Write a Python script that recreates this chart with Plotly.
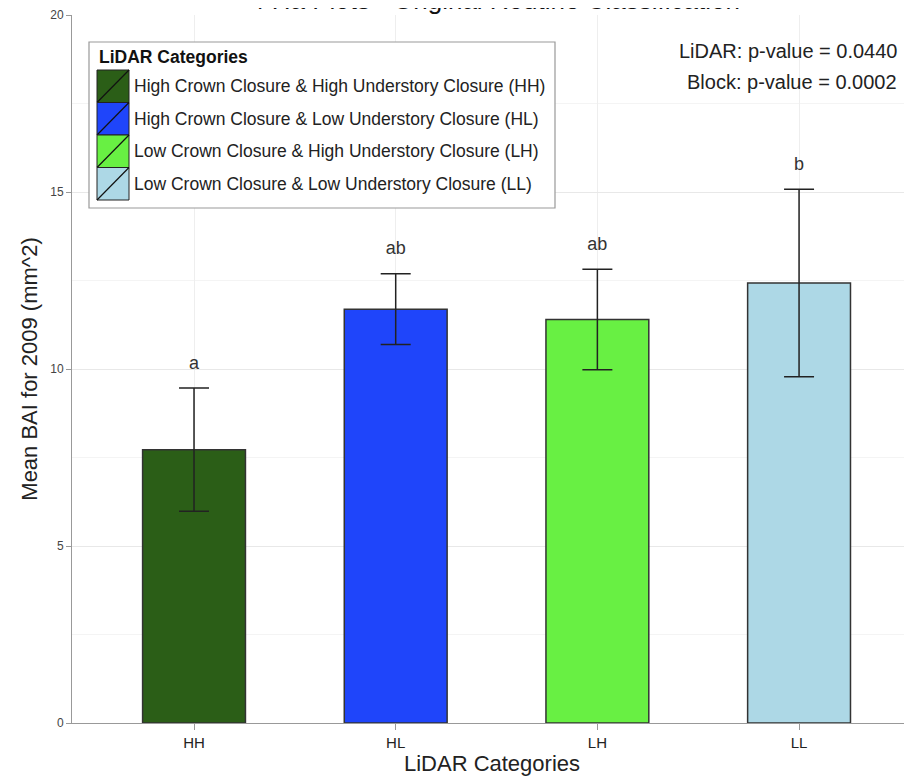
import plotly.graph_objects as go

categories = ["HH", "HL", "LH", "LL"]
legend_names = [
    "High Crown Closure & High Understory Closure (HH)",
    "High Crown Closure & Low Understory Closure (HL)",
    "Low Crown Closure & High Understory Closure (LH)",
    "Low Crown Closure & Low Understory Closure (LL)",
]
mean_bai = [7.72, 11.69, 11.40, 12.43]
std_err = [1.74, 1.00, 1.42, 2.65]
sig_letters = ["a", "ab", "ab", "b"]
colors = ["#2b5e17", "#1f45fa", "#68f043", "#add8e6"]

FONT = "Liberation Sans, Arial, sans-serif"

fig = go.Figure()
for cat, name, val, err, col in zip(categories, legend_names, mean_bai, std_err, colors):
    fig.add_trace(go.Bar(
        x=[cat], y=[val], name=name, width=0.51, showlegend=False,
        marker=dict(color=col, line=dict(color="#333333", width=1.5)),
        error_y=dict(type="data", array=[err], visible=True, color="#222222",
                     thickness=1.5, width=15),
    ))

fig.add_trace(go.Scatter(
    x=categories, y=[v + e + 0.68 for v, e in zip(mean_bai, std_err)],
    text=sig_letters, mode="text", showlegend=False,
    textfont=dict(family=FONT, size=18, color="#333333"),
))

# ---- legend (ggplot-style key with square swatches) ----
PLOT_L, PLOT_W, PLOT_T, PLOT_H = 72, 840, 15, 708   # page px of plot area
px = lambda x: (x - PLOT_L) / PLOT_W
py = lambda y: 1 - (y - PLOT_T) / PLOT_H

fig.add_shape(type="rect", xref="paper", yref="paper",
              x0=px(89), x1=px(555), y0=py(208), y1=py(42),
              line=dict(color="#999999", width=1.2), fillcolor="white", layer="above")
fig.add_annotation(text="<b>LiDAR Categories</b>", xref="paper", yref="paper",
                   x=px(97), y=py(57), xanchor="left", yanchor="middle",
                   showarrow=False, font=dict(family=FONT, size=17.5, color="#111111"))
ROW_TOP, ROW_H = 70, 32.5
for i, (name, col) in enumerate(zip(legend_names, colors)):
    top, bot = ROW_TOP + i * ROW_H, ROW_TOP + (i + 1) * ROW_H
    fig.add_shape(type="rect", xref="paper", yref="paper",
                  x0=px(97), x1=px(129), y0=py(bot), y1=py(top),
                  line=dict(color="#222222", width=1), fillcolor=col, layer="above")
    fig.add_shape(type="line", xref="paper", yref="paper",
                  x0=px(97), x1=px(129), y0=py(bot), y1=py(top),
                  line=dict(color="#111111", width=1.2), layer="above")
    fig.add_annotation(text=name, xref="paper", yref="paper",
                       x=px(132), y=py((top + bot) / 2), xanchor="left", yanchor="middle",
                       showarrow=False, font=dict(family=FONT, size=17.5, color="#222222"))

fig.add_annotation(text="4 Ha Plots - Original Routine Classification",
                   xref="paper", yref="paper", x=0.504, y=1, yanchor="bottom",
                   yshift=-2, showarrow=False,
                   font=dict(family=FONT, size=26, color="#111111"))
fig.add_annotation(text="LiDAR: p-value = 0.0440", xref="paper", yref="paper",
                   x=0.984, y=0.949, xanchor="right", yanchor="middle",
                   showarrow=False, font=dict(family=FONT, size=20, color="#222222"))
fig.add_annotation(text="Block: p-value = 0.0002", xref="paper", yref="paper",
                   x=0.984, y=0.905, xanchor="right", yanchor="middle",
                   showarrow=False, font=dict(family=FONT, size=20, color="#222222"))

fig.update_layout(
    width=912, height=779,
    margin=dict(l=64, r=8, t=7, b=64),
    paper_bgcolor="white", plot_bgcolor="white",
    font=dict(family=FONT, color="#222222"),
    barmode="overlay", showlegend=False,
    xaxis=dict(
        type="category", range=[-0.605, 3.56], automargin=False,
        showline=True, linecolor="#999999", linewidth=1,
        ticks="outside", ticklen=6, tickcolor="#999999",
        tickfont=dict(family=FONT, size=15, color="#222222"),
        showgrid=True, gridcolor="#eeeeee",
        title=dict(text="LiDAR Categories", font=dict(family=FONT, size=22, color="#222222"), standoff=2),
    ),
    yaxis=dict(
        range=[0, 20], tickvals=[0, 5, 10, 15, 20], automargin=False,
        showline=True, linecolor="#999999", linewidth=1,
        ticks="outside", ticklen=5, tickcolor="#999999",
        tickfont=dict(family=FONT, size=12, color="#444444"),
        showgrid=True, gridcolor="#e8e8e8", zeroline=False,
        minor=dict(dtick=2.5, showgrid=True, gridcolor="#f4f4f4"),
        title=dict(text="Mean BAI for 2009 (mm^2)", font=dict(family=FONT, size=22, color="#222222"), standoff=6),
    ),
)

fig.write_html("out.html")
